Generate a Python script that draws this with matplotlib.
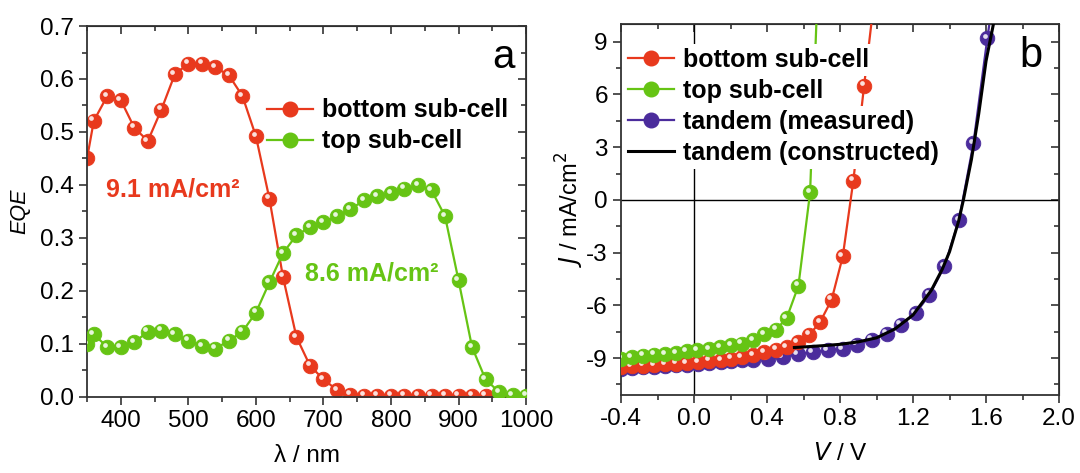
import matplotlib.pyplot as plt
from matplotlib.transforms import offset_copy

plt.rcParams['font.family'] = ['Liberation Sans', 'DejaVu Sans']
plt.rcParams['axes.unicode_minus'] = False

# --- panel a: EQE spectra ---
wl = [350, 360, 380, 400, 420, 440, 460, 480, 500, 520, 540, 560, 580, 600,
      620, 640, 660, 680, 700, 720, 740, 760, 780, 800, 820, 840, 860, 880,
      900, 920, 940, 960, 980, 1000]
eqe_bottom = [0.45, 0.521, 0.568, 0.560, 0.508, 0.483, 0.542, 0.609, 0.629,
              0.629, 0.622, 0.607, 0.568, 0.492, 0.374, 0.227, 0.113, 0.059,
              0.033, 0.013, 0.004, 0.002, 0.002, 0.002, 0.002, 0.002, 0.002,
              0.002, 0.002, 0.002, 0.002, 0.0, 0.0, 0.0]
eqe_top = [0.10, 0.118, 0.094, 0.094, 0.103, 0.123, 0.125, 0.118, 0.106,
           0.096, 0.091, 0.106, 0.123, 0.159, 0.216, 0.271, 0.305, 0.320,
           0.330, 0.341, 0.354, 0.371, 0.379, 0.384, 0.393, 0.399, 0.390,
           0.341, 0.220, 0.094, 0.033, 0.009, 0.003, 0.002]

# --- panel b: J-V curves ---
v_top = [-0.40, -0.342, -0.278, -0.217, -0.159, -0.099, -0.040, 0.018, 0.082,
         0.142, 0.203, 0.261, 0.325, 0.385, 0.449, 0.508, 0.572, 0.636, 0.672]
j_top = [-9.03, -8.96, -8.86, -8.81, -8.77, -8.71, -8.62, -8.56, -8.48,
         -8.39, -8.28, -8.18, -7.99, -7.63, -7.39, -6.72, -4.89, 0.42, 10.5]

v_bot = [-0.40, -0.342, -0.278, -0.217, -0.159, -0.099, -0.040, 0.024, 0.082,
         0.148, 0.203, 0.261, 0.325, 0.385, 0.449, 0.508, 0.568, 0.632, 0.690,
         0.754, 0.815, 0.873, 0.932, 0.977]
j_bot = [-9.53, -9.47, -9.43, -9.41, -9.36, -9.32, -9.28, -9.24, -9.15,
         -9.13, -9.03, -8.96, -8.84, -8.66, -8.52, -8.37, -8.09, -7.67, -6.97,
         -5.68, -3.22, 1.10, 6.50, 10.5]

v_tan = [-0.40, -0.342, -0.278, -0.217, -0.159, -0.099, -0.040, 0.024, 0.082,
         0.148, 0.203, 0.261, 0.325, 0.404, 0.486, 0.568, 0.650, 0.732, 0.815,
         0.891, 0.974, 1.056, 1.132, 1.215, 1.290, 1.372, 1.452, 1.531, 1.607,
         1.625]
j_tan = [-9.60, -9.56, -9.53, -9.51, -9.47, -9.41, -9.38, -9.34, -9.28,
         -9.22, -9.19, -9.13, -9.09, -9.05, -8.94, -8.77, -8.66, -8.56, -8.48,
         -8.24, -7.95, -7.61, -7.10, -6.44, -5.40, -3.79, -1.14, 3.22, 9.19,
         10.5]

v_con = [0.55, 0.60, 0.70, 0.80, 0.90, 1.00, 1.10, 1.20, 1.30, 1.36, 1.40,
         1.45, 1.476, 1.52, 1.56, 1.60, 1.65]
j_con = [-8.40, -8.37, -8.30, -8.22, -8.08, -7.85, -7.35, -6.55, -5.15,
         -3.95, -2.95, -1.20, 0.0, 2.30, 4.90, 7.90, 10.5]

c_red = '#e8391d'
c_green = '#66c414'
c_purple = '#4b2c9c'


def sphere_line(ax, x, y, color, label, z, n=None):
    xs, ys = (x, y) if n is None else (x[:n], y[:n])
    ax.plot(x, y, '-', color=color, lw=1.6, zorder=z)
    ax.plot(xs, ys, 'o', color=color, ms=10.5, mec=color, mew=0.6, zorder=z + 0.1)
    # small highlight to mimic the glossy ball markers
    tr = offset_copy(ax.transData, fig=ax.figure, x=-1.7, y=1.7, units='points')
    ax.plot(xs, ys, 'o', color='white', ms=3.4, mew=0, alpha=0.85,
            transform=tr, zorder=z + 0.2)
    # proxy for legend
    ax.plot([], [], '-o', color=color, ms=10.5, lw=1.6, label=label)


def style_axes(ax, xmaj, xmin, ymaj, ymin):
    ax.set_xticks(xmaj)
    ax.set_xticks(xmin, minor=True)
    ax.set_yticks(ymaj)
    ax.set_yticks(ymin, minor=True)
    ax.tick_params(which='major', direction='out', length=6, width=1.2,
                   labelsize=17.5, colors='#333333', labelcolor='black')
    ax.tick_params(which='minor', direction='out', length=3.5, width=1.2,
                   colors='#333333')
    for s in ax.spines.values():
        s.set_linewidth(1.3)
        s.set_color('#333333')
    top = ax.secondary_xaxis('top')
    top.set_xticks(xmaj)
    top.set_xticks(xmin, minor=True)
    top.tick_params(which='both', direction='in', labeltop=False,
                    width=1.2, colors='#333333')
    top.tick_params(which='major', length=6)
    top.tick_params(which='minor', length=3.5)
    right = ax.secondary_yaxis('right')
    right.set_yticks(ymaj)
    right.set_yticks(ymin, minor=True)
    right.tick_params(which='both', direction='in', labelright=False,
                      width=1.2, colors='#333333')
    right.tick_params(which='major', length=6)
    right.tick_params(which='minor', length=3.5)


fig = plt.figure(figsize=(10.8, 4.73), dpi=100)
ax1 = fig.add_axes([0.0806, 0.161, 0.4065, 0.784])
ax2 = fig.add_axes([0.575, 0.165, 0.4056, 0.784])

legend_kw = dict(frameon=False, prop={'weight': 'bold', 'size': 18},
                 handlelength=1.85, handletextpad=0.35, labelspacing=0.28,
                 borderaxespad=0, borderpad=0)

# panel a
sphere_line(ax1, wl, eqe_bottom, c_red, 'bottom sub-cell', 2)
sphere_line(ax1, wl, eqe_top, c_green, 'top sub-cell', 3)
ax1.set_xlim(350, 1000)
ax1.set_ylim(0, 0.7)
style_axes(ax1, [400, 500, 600, 700, 800, 900, 1000],
           [350, 450, 550, 650, 750, 850, 950],
           [0.0, 0.1, 0.2, 0.3, 0.4, 0.5, 0.6, 0.7],
           [0.05, 0.15, 0.25, 0.35, 0.45, 0.55, 0.65])
ax1.yaxis.set_major_formatter(plt.FormatStrFormatter('%.1f'))
ax1.set_xlabel('λ / nm', fontsize=17.5, labelpad=9)
ax1.set_ylabel('EQE', fontsize=15.5, style='italic', labelpad=7)
ax1.text(378, 0.392, '9.1 mA/cm²', color=c_red, fontsize=18, weight='bold',
         va='center')
ax1.text(673, 0.232, '8.6 mA/cm²', color=c_green, fontsize=18, weight='bold',
         va='center')
ax1.text(0.975, 0.887, 'a', transform=ax1.transAxes, fontsize=29,
         ha='right', va='baseline')
ax1.legend(loc='upper left', bbox_to_anchor=(0.41, 0.805), **legend_kw)

# panel b
ax2.axhline(0, color='black', lw=1, zorder=1)
ax2.axvline(0, color='black', lw=1, zorder=1)
sphere_line(ax2, v_tan, j_tan, c_purple, 'tandem (measured)', 2, n=len(v_tan) - 1)
sphere_line(ax2, v_bot, j_bot, c_red, 'bottom sub-cell', 3, n=len(v_bot) - 1)
sphere_line(ax2, v_top, j_top, c_green, 'top sub-cell', 4, n=len(v_top) - 1)
ax2.plot(v_con, j_con, '-', color='black', lw=2.2, zorder=5,
         label='tandem (constructed)')
ax2.set_xlim(-0.4, 2.0)
ax2.set_ylim(-11.1, 10)
style_axes(ax2, [-0.4, 0.0, 0.4, 0.8, 1.2, 1.6, 2.0],
           [-0.2, 0.2, 0.6, 1.0, 1.4, 1.8],
           [-9, -6, -3, 0, 3, 6, 9],
           [-10.5, -7.5, -4.5, -1.5, 1.5, 4.5, 7.5])
ax2.xaxis.set_major_formatter(plt.FormatStrFormatter('%.1f'))
ax2.set_xlabel('$V$ / V', fontsize=17.5, labelpad=9)
ax2.set_ylabel('$J$ / mA/cm$^2$', fontsize=17, labelpad=0)
ax2.text(0.963, 0.884, 'b', transform=ax2.transAxes, fontsize=30,
         ha='right', va='baseline')
h, l = ax2.get_legend_handles_labels()
order = [l.index('bottom sub-cell'), l.index('top sub-cell'),
         l.index('tandem (measured)'), l.index('tandem (constructed)')]
leg2 = ax2.legend([h[i] for i in order], [l[i] for i in order],
                  loc='upper left', bbox_to_anchor=(0.016, 0.935), **legend_kw)
leg2.set_zorder(10)
for t in leg2.get_texts():
    t.set_bbox(dict(facecolor='white', edgecolor='none', pad=3))

fig.savefig('out.png', dpi=100)
